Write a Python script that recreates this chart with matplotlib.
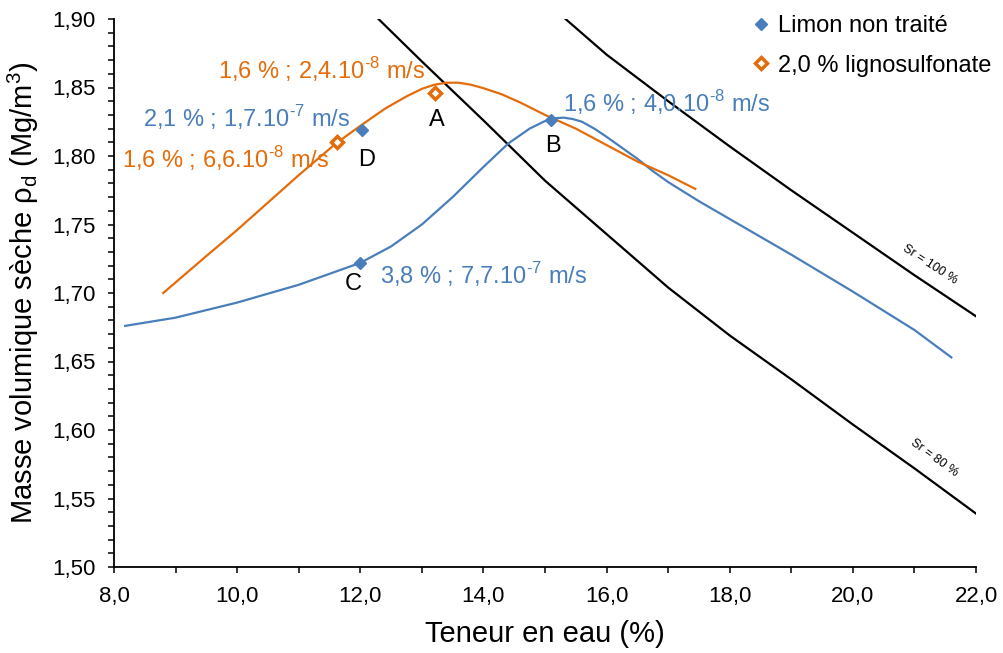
import matplotlib
matplotlib.use("Agg")
import matplotlib.pyplot as plt
from matplotlib.ticker import MultipleLocator, FuncFormatter

plt.rcParams['font.family'] = ['Liberation Sans', 'DejaVu Sans']
plt.rcParams['mathtext.fontset'] = 'custom'
plt.rcParams['mathtext.rm'] = 'Liberation Sans'

# ---- data ----
blue_curve_x = [8.18, 9.0, 10.0, 11.0, 12.0, 12.5, 13.0, 13.5, 14.0, 14.4, 14.75, 15.0, 15.15, 15.3,
                15.45, 15.6, 15.8, 16.0, 16.25, 16.5, 16.75, 17.0, 17.5, 18.0, 19.0, 20.0, 21.0, 21.6]
blue_curve_y = [1.676, 1.682, 1.693, 1.706, 1.722, 1.734, 1.750, 1.770, 1.792, 1.809, 1.820, 1.8255, 1.8275, 1.828,
                1.827, 1.825, 1.820, 1.814, 1.806, 1.798, 1.789, 1.781, 1.767, 1.754, 1.728, 1.701, 1.673, 1.653]
orange_curve_x = [8.8, 9.5, 10.0, 10.5, 11.0, 11.6, 12.0, 12.4, 12.75, 13.0, 13.2, 13.4, 13.6, 13.8, 14.0, 14.3,
                  14.6, 15.0, 15.5, 16.0, 16.5, 17.0, 17.44]
orange_curve_y = [1.700, 1.727, 1.746, 1.766, 1.786, 1.809, 1.822, 1.8345, 1.8435, 1.849, 1.852, 1.8535, 1.8535, 1.852, 1.8495, 1.845,
                  1.839, 1.830, 1.820, 1.808, 1.796, 1.786, 1.776]
blue_pts_x = [12.03, 12.0, 15.1]
blue_pts_y = [1.819, 1.722, 1.826]
orange_pts_x = [11.62, 13.21]
orange_pts_y = [1.810, 1.846]
sr100_x = [15.0, 16.0, 17.0, 18.0, 19.0, 20.0, 21.0, 22.0]
sr100_y = [1.913, 1.874, 1.840, 1.807, 1.775, 1.744, 1.713, 1.683]
sr80_x = [12.0, 13.0, 14.0, 15.0, 16.0, 17.0, 18.0, 19.0, 20.0, 21.0, 22.0]
sr80_y = [1.913, 1.869, 1.826, 1.782, 1.743, 1.704, 1.669, 1.637, 1.604, 1.572, 1.539]

BLUE = '#4A7EBB'
ORANGE = '#E46C0A'
HY = '\u2010'

fig = plt.figure(figsize=(10.04, 6.53), dpi=100)
ax = fig.add_axes([114/1004, 1-567/653, (976-114)/1004, (567-19)/653])

ax.plot(sr100_x, sr100_y, color='black', lw=1.6, zorder=2)
ax.plot(sr80_x, sr80_y, color='black', lw=1.6, zorder=2)
ax.plot(blue_curve_x, blue_curve_y, color=BLUE, lw=1.6, zorder=3)
ax.plot(orange_curve_x, orange_curve_y, color=ORANGE, lw=1.6, zorder=3)
hb, = ax.plot(blue_pts_x, blue_pts_y, ls='none', marker='D', ms=6.5, color=BLUE,
              zorder=4, label='Limon non traité')
ho, = ax.plot(orange_pts_x, orange_pts_y, ls='none', marker='D', ms=6, mfc='white',
              mec=ORANGE, mew=2.5, zorder=4, label='2,0 % lignosulfonate')

ax.set_xlim(8, 22)
ax.set_ylim(1.50, 1.90)
ax.xaxis.set_major_locator(MultipleLocator(2))
ax.xaxis.set_minor_locator(MultipleLocator(1))
ax.yaxis.set_major_locator(MultipleLocator(0.05))
ax.yaxis.set_minor_locator(MultipleLocator(0.01))
ax.xaxis.set_major_formatter(FuncFormatter(lambda v, p: f"{v:.1f}".replace('.', ',')))
ax.yaxis.set_major_formatter(FuncFormatter(lambda v, p: f"{v:.2f}".replace('.', ',')))
for s in ['top', 'right']:
    ax.spines[s].set_visible(False)
for s in ['left', 'bottom']:
    ax.spines[s].set_linewidth(1.3)
ax.tick_params(axis='both', which='both', direction='out', length=4, width=1.1, labelsize=16)
ax.tick_params(axis='x', pad=10)
ax.tick_params(axis='y', pad=9.5)

ax.set_xlabel('Teneur en eau (%)', fontsize=21, labelpad=9)
ax.set_ylabel(r'Masse volumique sèche ρ$_\mathregular{d}$ (Mg/m$^\mathregular{3}$)', fontsize=21, labelpad=8)


def sup(a, e):
    return a + r'$^\mathregular{' + HY + e + r'}$' + ' m/s'


fs = 17
ax.text(9.689, 1.856, sup('1,6 % ; 2,4.10', '8'), color=ORANGE, fontsize=fs, ha='left', va='baseline')
ax.text(8.471, 1.821, sup('2,1 % ; 1,7.10', '7'), color=BLUE, fontsize=fs, ha='left', va='baseline')
ax.text(8.130, 1.791, sup('1,6 % ; 6,6.10', '8'), color=ORANGE, fontsize=fs, ha='left', va='baseline')
ax.text(15.292, 1.8323, sup('1,6 % ; 4,0.10', '8'), color=BLUE, fontsize=fs, ha='left', va='baseline')
ax.text(12.32, 1.7064, sup('3,8 % ; 7,7.10', '7'), color=BLUE, fontsize=fs, ha='left', va='baseline')
ax.text(13.246, 1.822, 'A', color='black', fontsize=fs, ha='center', va='baseline')
ax.text(12.109, 1.7927, 'D', color='black', fontsize=fs, ha='center', va='baseline')
ax.text(15.13, 1.8032, 'B', color='black', fontsize=fs, ha='center', va='baseline')
ax.text(11.88, 1.7022, 'C', color='black', fontsize=fs, ha='center', va='baseline')

ax.text(21.25, 1.721, 'Sr = 100 %', fontsize=9, rotation=-33, ha='center', va='center', rotation_mode='anchor')
ax.text(21.32, 1.580, 'Sr = 80 %', fontsize=9, rotation=-36, ha='center', va='center', rotation_mode='anchor')

leg = ax.legend(handles=[hb, ho], loc='upper left', bbox_to_anchor=(752/1004, 1-15/653),
                bbox_transform=fig.transFigure, frameon=False, fontsize=17,
                handlelength=0.8, handletextpad=0.3, labelspacing=0.75, borderpad=0, borderaxespad=0)

fig.savefig('out.png', dpi=100)
